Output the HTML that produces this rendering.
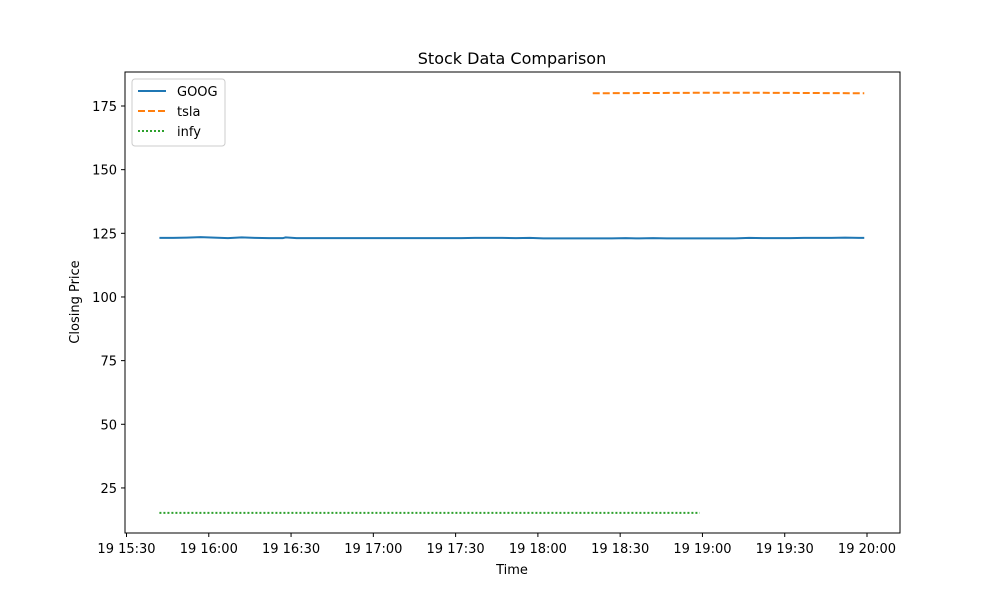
<!DOCTYPE html>
<html><head><meta charset="utf-8"><style>
body{margin:0;background:#fff;font-family:"Liberation Sans","DejaVu Sans",sans-serif}
svg text{font-family:"DejaVu Sans","Liberation Sans",sans-serif;font-size:13px;fill:#000}
</style></head><body>
<svg id="chart" width="1000" height="600">
<rect x="0" y="0" width="1000" height="600" fill="#fff"/>
<g id="grid"></g>
<g id="series"></g>
<rect x="125" y="72" width="775" height="461" fill="none" stroke="#000" stroke-width="1"/>
<g id="axes"></g>
<text x="512" y="64" text-anchor="middle" style="font-size:16px">Stock Data Comparison</text>
<text x="512" y="574" text-anchor="middle">Time</text>
<text x="79" y="302" text-anchor="middle" transform="rotate(-90 79 302)">Closing Price</text>
<g id="legend">
<rect x="132" y="79" width="93" height="67" rx="3" fill="#fff" stroke="#ccc"/>
<line x1="138" y1="91" x2="166" y2="91" stroke="#1f77b4" stroke-width="2"/>
<text x="177" y="96">GOOG</text>
<line x1="138" y1="111" x2="166" y2="111" stroke="#ff7f0e" stroke-width="2" stroke-dasharray="7,3"/>
<text x="177" y="116">tsla</text>
<line x1="138" y1="131" x2="166" y2="131" stroke="#2ca02c" stroke-width="2" stroke-dasharray="2,2"/>
<text x="177" y="136">infy</text>
</g>
</svg>
<script>
// minutes since 15:30
const googTimes=[12,17,22,27,32,37,42,47,52,57,58,62,67,72,77,82,87,92,97,102,107,112,117,122,127,132,137,142,147,152,157,162,167,172,177,182,187,192,197,202,207,212,217,222,227,232,237,242,247,252,257,262,267,269];
const googValues=[123.2,123.2,123.3,123.5,123.3,123.1,123.4,123.2,123.1,123.1,123.4,123.1,123.1,123.1,123.1,123.1,123.1,123.1,123.1,123.1,123.1,123.1,123.1,123.1,123.2,123.2,123.2,123.1,123.2,123.0,123.0,123.0,123.0,123.0,123.0,123.1,123.0,123.1,123.0,123.0,123.0,123.0,123.0,123.0,123.2,123.1,123.1,123.1,123.2,123.2,123.2,123.3,123.2,123.2];
const tslaTimes=[170,190,210,230,250,269];
const tslaValues=[180.0,180.1,180.2,180.2,180.1,180.0];
const infyTimes=[12,60,120,180,209];
const infyValues=[15.2,15.2,15.2,15.2,15.2];
const xTicks=[0,30,60,90,120,150,180,210,240,270];
const xTickLabels=["19 15:30","19 16:00","19 16:30","19 17:00","19 17:30","19 18:00","19 18:30","19 19:00","19 19:30","19 20:00"];
const yTicks=[25,50,75,100,125,150,175];

const ns="http://www.w3.org/2000/svg";
const X=m=>126.5+m*(867-126.5)/270;
const Y=v=>551.6-v*(551.6-106)/175;
const axes=document.getElementById('axes'),ser=document.getElementById('series');
function mk(tag,attrs,parent){const e=document.createElementNS(ns,tag);for(const k in attrs)e.setAttribute(k,attrs[k]);parent.appendChild(e);return e;}
xTicks.forEach((t,i)=>{
  mk('line',{x1:X(t),x2:X(t),y1:533,y2:537,stroke:'#000'},axes);
  const tx=mk('text',{x:X(t),y:553,'text-anchor':'middle'},axes);tx.textContent=xTickLabels[i];
  
  
});
yTicks.forEach(v=>{
  mk('line',{x1:121,x2:125,y1:Y(v),y2:Y(v),stroke:'#000'},axes);
  const tx=mk('text',{x:117,y:Y(v)+5,'text-anchor':'end'},axes);tx.textContent=v;
  
  
});
function line(ts,vs,color,dash,name){
  const p=mk('polyline',{points:ts.map((t,i)=>X(t)+','+Y(vs[i])).join(' '),fill:'none',stroke:color,'stroke-width':2,'stroke-dasharray':dash},ser);
  
  
}
line(googTimes,googValues,'#1f77b4','none','goog-line');
line(tslaTimes,tslaValues,'#ff7f0e','7,3','tsla-line');
line(infyTimes,infyValues,'#2ca02c','2,2','infy-line');
</script>
</body></html>
